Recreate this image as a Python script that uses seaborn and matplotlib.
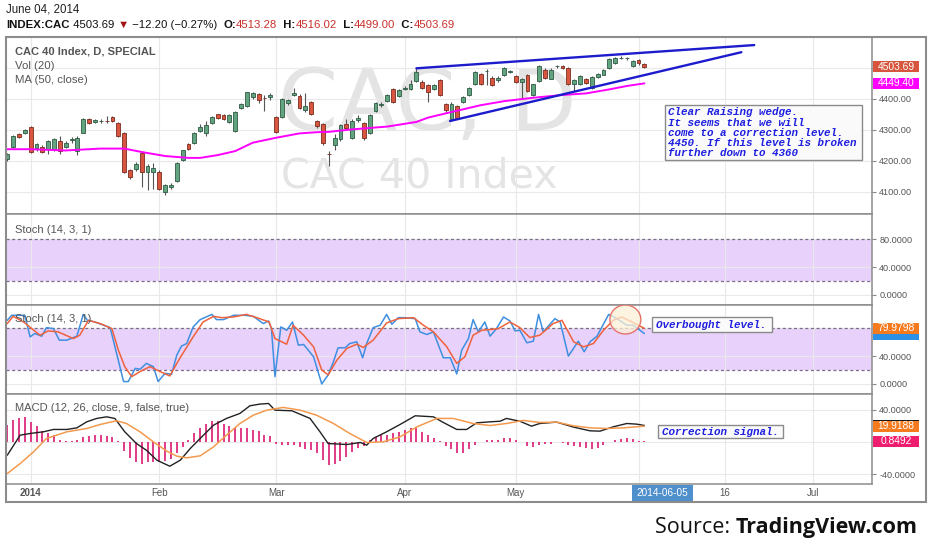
import numpy as np
import pandas as pd
import matplotlib
matplotlib.use("Agg")
import matplotlib.pyplot as plt
import seaborn as sns
from matplotlib.patches import Rectangle, Ellipse

W, H = 932, 550

# --- daily candles, CAC 40 (Dec 24 2013 .. Jun 04 2014) ---
opens = [4205, 4245, 4285, 4288, 4310, 4242, 4244, 4237, 4237, 4263,
         4245, 4268, 4231, 4290, 4335, 4324, 4327, 4328, 4341, 4322,
         4288, 4169, 4173, 4224, 4164, 4164, 4164, 4098, 4114, 4135,
         4201, 4253, 4258, 4295, 4290, 4320, 4349, 4346, 4324, 4295,
         4370, 4375, 4407, 4415, 4403, 4407, 4341, 4341, 4386, 4411,
         4410, 4365, 4388, 4327, 4317, 4222, 4249, 4269, 4317, 4274,
         4331, 4322, 4290, 4360, 4380, 4392, 4430, 4408, 4432, 4430,
         4457, 4455, 4443, 4432, 4459, 4382, 4333, 4376, 4389, 4412,
         4448, 4480, 4489, 4468, 4459, 4475, 4487, 4473, 4455, 4476,
         4412, 4457, 4494, 4465, 4504, 4507, 4500, 4448, 4446, 4462,
         4435, 4471, 4478, 4500, 4514, 4531, 4530, 4507, 4525, 4513.28]
closes = [4223, 4281, 4276, 4299, 4228, 4253, 4229, 4265, 4269, 4231,
          4256, 4270, 4274, 4335, 4322, 4331, 4328, 4327, 4327, 4281,
          4164, 4146, 4189, 4164, 4183, 4175, 4108, 4121, 4122, 4192,
          4233, 4239, 4288, 4309, 4315, 4341, 4338, 4335, 4346, 4357,
          4383, 4420, 4418, 4397, 4401, 4413, 4292, 4399, 4395, 4418,
          4370, 4375, 4352, 4311, 4256, 4220, 4274, 4314, 4306, 4328,
          4339, 4274, 4347, 4387, 4382, 4411, 4389, 4427, 4434, 4449,
          4486, 4435, 4422, 4444, 4412, 4365, 4384, 4339, 4405, 4433,
          4486, 4448, 4490, 4443, 4468, 4500, 4487, 4455, 4464, 4425,
          4446, 4507, 4468, 4494, 4505, 4500, 4446, 4459, 4473, 4451,
          4470, 4481, 4494, 4527, 4532, 4532, 4530, 4521, 4514, 4503.69]
highs = [4226, 4284, 4289, 4302, 4312, 4257, 4250, 4268, 4272, 4280,
         4262, 4275, 4280, 4338, 4338, 4336, 4335, 4343, 4345, 4325,
         4292, 4172, 4195, 4228, 4190, 4192, 4170, 4125, 4128, 4195,
         4236, 4256, 4291, 4318, 4328, 4344, 4352, 4350, 4352, 4360,
         4386, 4422, 4421, 4418, 4412, 4418, 4345, 4402, 4398, 4434,
         4415, 4418, 4392, 4331, 4320, 4232, 4285, 4318, 4335, 4333,
         4348, 4326, 4350, 4390, 4388, 4414, 4433, 4430, 4440, 4460,
         4498, 4459, 4447, 4449, 4465, 4386, 4388, 4380, 4410, 4437,
         4490, 4484, 4495, 4472, 4472, 4503, 4492, 4477, 4468, 4480,
         4449, 4510, 4498, 4498, 4510, 4510, 4503, 4463, 4476, 4466,
         4474, 4484, 4497, 4530, 4535, 4537, 4534, 4525, 4528, 4516.02]
lows = [4200, 4240, 4272, 4285, 4225, 4232, 4225, 4221, 4230, 4220,
        4240, 4256, 4218, 4288, 4318, 4320, 4322, 4322, 4324, 4278,
        4160, 4140, 4168, 4114, 4104, 4108, 4104, 4090, 4110, 4130,
        4198, 4236, 4255, 4292, 4280, 4317, 4335, 4330, 4320, 4292,
        4366, 4372, 4400, 4385, 4359, 4395, 4290, 4338, 4380, 4408,
        4366, 4357, 4348, 4307, 4252, 4183, 4235, 4262, 4302, 4270,
        4326, 4268, 4285, 4357, 4374, 4389, 4386, 4405, 4428, 4427,
        4453, 4432, 4389, 4428, 4408, 4355, 4328, 4335, 4385, 4409,
        4444, 4445, 4443, 4440, 4455, 4472, 4482, 4451, 4403, 4421,
        4408, 4454, 4465, 4462, 4500, 4497, 4443, 4425, 4443, 4448,
        4430, 4468, 4475, 4497, 4511, 4527, 4524, 4503, 4510, 4499.00]

# MA (50, close)
ma_x = [0, 4, 10, 16, 20, 23, 27, 31, 33, 36, 39, 42, 46, 50, 53, 55, 59, 65, 70, 72,
        76, 81, 85, 90, 95, 99, 103, 106, 109]
ma_v = [4237, 4237, 4233, 4239, 4239, 4228, 4215, 4209, 4209, 4218, 4231, 4258, 4274, 4288,
        4292, 4293, 4301, 4310, 4325, 4339, 4357, 4379, 4392, 4403, 4412, 4417, 4430, 4441, 4449.4]

# rising wedge drawn by the author
wedge_top_x = [70, 127.8]
wedge_top_v = [4498, 4573]
wedge_low_x = [75.75, 125.6]
wedge_low_v = [4328, 4550]

# Stoch (14, 3, 1), second pane
k_x = [0, 0.75, 3, 3.9, 4.7, 5.9, 6.7, 7.9, 8.9, 10.2, 11.9, 13, 13.7, 15, 17.6, 19.9, 20.7,
       21.9, 22.7, 23.8, 25, 25.8, 27, 28.1, 29, 29.8, 30.7, 31.8, 33, 35, 35.8, 37, 38.7,
       40.7, 42.1, 43.8, 44.7, 45.2, 45.8, 46.8, 47.8, 48.8, 49.8, 50.7, 52.4, 53.8, 54.9,
       55.8, 56.6, 57.8, 58.6, 59.8, 60.8, 61.5, 62.6, 63.8, 64.9, 65.8, 66.9, 68.1, 69.8,
       70.6, 71.8, 72.9, 74.6, 75.8, 76.9, 77.75, 78.9, 79.7, 80.6, 81.7, 82.6, 83.7, 84.9,
       86, 86.9, 87.7, 88.9, 90, 90.9, 91.7, 93.7, 94.6, 96, 97.7, 98.7, 99.7, 100.9, 102.9,
       104.3, 106, 107.1, 109]
k_v = [91.5, 98.7, 98.7, 67.7, 72.5, 68.7, 81, 79.6, 63, 63, 68.7, 100, 91.5, 89.1, 81, 3.5,
       3.5, 22.5, 21.1, 29.6, 24.9, 3.5, 15.4, 13.9, 41.5, 54.4, 58.2, 82, 92.5, 100, 92.5,
       92.5, 98.7, 98.7, 97.2, 86.8, 90.6, 79.6, 10.6, 82, 77.2, 89.1, 55.8, 56.8, 39.2, 0.1,
       13, 32, 52, 52, 58.2, 60.6, 37.7, 58.2, 81, 84.4, 100, 85.8, 95.3, 95.3, 93.9, 74.9,
       71.1, 74.9, 37.7, 37.7, 14.4, 48.7, 65.3, 92.5, 74.9, 89.1, 68.7, 79.6, 96.3, 90.6,
       76.3, 77.2, 59.2, 61.5, 100, 74.9, 93.9, 89.1, 40.1, 61.5, 46.3, 60.6, 68.7, 100,
       93.9, 84.4, 84.4, 72.5]
d_x = [0, 1, 2.8, 5.6, 7, 8.7, 11.3, 12.4, 13.9, 15.9, 17.9, 19, 20.1, 21.3, 22.7, 24.4, 25.8,
       27.8, 29.5, 31.8, 33.5, 35.3, 36.7, 38.7, 40.9, 42.7, 44.8, 45.8, 47.8, 48.9, 50.7,
       52.4, 53.8, 54.9, 56.4, 58.1, 59.8, 60.9, 62.6, 64.9, 66.9, 69.5, 71.2, 72.9, 75.2,
       76.9, 78.3, 79.7, 81.2, 82.6, 84, 86, 87.7, 89.4, 91.1, 93.4, 94.9, 96.9, 98.6, 100.3,
       102, 103.7, 105.1, 106.9, 109]
d_v = [86.8, 97.2, 89.1, 70.1, 76.3, 74.9, 65.3, 70.1, 91.5, 86.8, 79.6, 48.7, 24.9, 10.6,
       17.8, 24.9, 19.2, 11.6, 36.8, 67.7, 89.1, 97.2, 95.3, 96.3, 100, 95.3, 89.1, 65.3,
       57.2, 84.4, 70.1, 53.4, 20.1, 13, 34.4, 51.1, 57.2, 52.5, 63, 87.7, 93.9, 95.3, 84.4,
       74.9, 53.4, 29.6, 39.2, 70.1, 77.2, 78.2, 79.6, 89.1, 81, 66.8, 70.1, 86.8, 91.5,
       60.6, 53.4, 58.2, 77.2, 91.5, 96.3, 89.1, 79.98]

# MACD (12, 26, close, 9)
macd_x = [0, 2.2, 3.9, 6.2, 7.9, 10.2, 11.9, 13.6, 15.3, 17, 18.4, 20.1, 22.1, 23.8, 25.6,
          27.8, 29.6, 31.3, 33, 35.3, 37.5, 39.8, 41.5, 43.2, 44.7, 45.8, 48.7, 51.8, 53.5,
          54.9, 58.1, 60.4, 61.5, 62.6, 64.9, 67.2, 69.8, 72.9, 74.6, 76.9, 78.6, 80.3, 82.6,
          84.3, 85.4, 87.7, 89.7, 91.1, 94, 96.9, 99.7, 101.4, 103.7, 106, 107.7, 109]
macd_v = [-16.2, 8.7, 10.8, 12.9, 15.8, 15.8, 17.8, 25.3, 29.5, 31.5, 29.5, 12.9, -1.7, -10,
          -22.4, -29.9, -22.4, -7.9, 4.6, 21.2, 29.5, 35.7, 45.2, 47.3, 48.1, 39.8, 39, 29.5,
          12.9, -1.7, -2.9, -0.4, -3.7, 4.6, 12.9, 22, 32.8, 31.5, 24.5, 15.8, 15.8, 24, 25.3,
          26, 29.5, 26, 19.9, 23.2, 24.9, 18.7, 14.1, 13.7, 19.1, 23.2, 22.4, 20.77]
signal_x = [0, 2.2, 4.5, 6.7, 10.2, 13.6, 15.9, 18.7, 20.4, 22.7, 25, 27.3, 29, 30.7, 33, 35.3,
            37.5, 39.8, 42.1, 44.4, 47.2, 50.1, 52.9, 55.8, 58.6, 61.5, 64.3, 67.2, 70.1, 73.5,
            76.3, 79.7, 82.6, 85.4, 88.3, 91.1, 94, 96.9, 99.7, 102.6, 105.4, 109]
signal_v = [-39, -26.6, -12, 4.6, 12.9, 17, 22, 26.6, 23.2, 12.9, 0.4, -11.2, -17.4, -19.5,
            -17, -5.8, 8.7, 23.2, 33.6, 39.8, 43.2, 39.8, 33.6, 23.2, 10.8, -0.4, 0.4, 6.6,
            19.1, 29.5, 29.5, 23.2, 20.7, 23.2, 27, 24.5, 24.9, 20.3, 17.8, 17, 17.8, 19.92]
hist_v = [21, 28, 30, 31, 24.5, 20, 13.7, 10.8, 8.7, 3.3,
          2, 1.7, 2.5, 6.6, 7.5, 8.7, 8.7, 7.5, 6.6, 1.7,
          -11.2, -20, -24.5, -27, -25, -25, -24.5, -23.7, -21, -14,
          -5.8, 3.3, 10.8, 17.8, 22, 26, 26, 22, 20, 17,
          17, 17, 15, 13.7, 9.5, 7.5, -1.7, -3, -3, -3,
          -5.8, -7.9, -10, -14, -21.6, -28.6, -26.6, -23.7, -18.3, -12,
          -7, -5, 2.5, 6.6, 9.5, 9.5, 10.8, 12.9, 15, 17.8,
          17, 12.9, 8.7, 5.8, 1.2, -5, -8.5, -14, -13, -7.9,
          -3.7, 0.3, 3.3, 3.3, 3.3, 4.6, 5.8, 2.5, -0.4, -5,
          -5.8, -3, -2, -1.7, 0.2, -0.8, -3.7, -5, -5.8, -7,
          -7.9, -7, -3.7, 0.2, 2.5, 3.7, 4.6, 3.7, 2, 0.85]

# time axis (bar positions of the month starts; future part is calendar spaced)
xtick_pos = [4, 26, 46, 68, 87, 108, 122.8, 137.9]
xtick_lab = ['2014', 'Feb', 'Mar', 'Apr', 'May', '', '16', 'Jul']

header_date = 'June 04, 2014'
header_parts = [('INDEX:CAC', '#111111', 'bold'), (' 4503.69 ', '#111111', 'normal'),
                ('\u25bc', '#a01515', 'normal'), (' \u221212.20 (\u22120.27%)  ', '#111111', 'normal'),
                ('O:', '#111111', 'bold'), ('4513.28', '#c8302c', 'normal'),
                ('  H:', '#111111', 'bold'), ('4516.02', '#c8302c', 'normal'),
                ('  L:', '#111111', 'bold'), ('4499.00', '#c8302c', 'normal'),
                ('  C:', '#111111', 'bold'), ('4503.69', '#c8302c', 'normal')]
note_lines = ['Clear Raising wedge.', 'It seems that we will', 'come to a correction level.',
              '4450. If this level is broken', 'further down to 4360']

sns.set_theme(style="white")
plt.rcParams['font.family'] = ['Liberation Sans', 'DejaVu Sans']

fig = plt.figure(figsize=(W / 100, H / 100), dpi=100)


def fx(x):
    return x / W


def fy(y):
    return 1 - y / H


PL, PR = 6, 872.3


def make_ax(top, bottom):
    ax = fig.add_axes([fx(PL), fy(bottom), (PR - PL) / W, (bottom - top) / H])
    ax.set_facecolor('white')
    ax.set_xlim(-0.22, 148)
    ax.set_xticks(xtick_pos)
    ax.grid(True, color='#e9e9e9', lw=0.8)
    ax.set_axisbelow(True)
    ax.yaxis.tick_right()
    ax.tick_params(axis='y', length=3, width=0.8, color='#888888', labelsize=6.6,
                   labelcolor='#555555', pad=2, right=True, left=False)
    ax.tick_params(axis='x', length=0, labelbottom=False)
    for s in ax.spines.values():
        s.set_color('#8c8c8c')
        s.set_linewidth(1.1)
    return ax


ax_p = make_ax(36.7, 214.3)
ax_s1 = make_ax(214.3, 305)
ax_s2 = make_ax(305, 394.3)
ax_m = make_ax(394.3, 484)

# ---- price pane ----
ax_p.set_ylim(4027, 4600)
ax_p.set_yticks([4100, 4200, 4300, 4400, 4500])
ax_p.set_yticklabels(['4100.00', '4200.00', '4300.00', '4400.00', ''])

ax_p.text(fx(278), fy(130), 'CAC, D', transform=fig.transFigure, fontsize=62,
          family='DejaVu Sans', color='#e4e4e4', ha='left', va='baseline', zorder=0.5)
ax_p.text(fx(281), fy(188), 'CAC 40 Index', transform=fig.transFigure, fontsize=29.6,
          family='DejaVu Sans', color='#e4e4e4', ha='left', va='baseline', zorder=0.5)

df = pd.DataFrame({'o': opens, 'h': highs, 'l': lows, 'c': closes})
df['i'] = np.arange(len(df))
up = (df['c'] >= df['o']).to_numpy()
ax_p.vlines(df['i'], df['l'], df['h'], color='#555555', lw=0.8, zorder=3)
ax_p.bar(df['i'], (df['c'] - df['o']).abs().clip(lower=1.0), bottom=df[['o', 'c']].min(axis=1),
         width=0.66, color=np.where(up, '#62a47f', '#d8553f'),
         edgecolor=np.where(up, '#2f5a44', '#7a2c1f'), linewidth=0.6, zorder=4)

sns.lineplot(x=ma_x, y=ma_v, ax=ax_p, color='#ff00ff', lw=1.4, zorder=5)
sns.lineplot(x=wedge_top_x, y=wedge_top_v, ax=ax_p, color='#1c1ccc', lw=1.7, zorder=6)
sns.lineplot(x=wedge_low_x, y=wedge_low_v, ax=ax_p, color='#1c1ccc', lw=1.7, zorder=6)

# ---- stoch panes ----
for ax, lo, hi, lab80 in [(ax_s1, -14.4, 116, '80.0000'), (ax_s2, -14.8, 113.5, '')]:
    ax.set_ylim(lo, hi)
    ax.set_yticks([0, 40, 80])
    ax.set_yticklabels(['0.0000', '40.0000', lab80])
    ax.axhspan(20, 80, color='#e8d1fb', zorder=0.4, lw=0)
    for lvl in (20, 80):
        ax.axhline(lvl, color='#7d6d8c', lw=0.9, ls=(0, (2.5, 2)), zorder=1)

sns.lineplot(x=k_x, y=k_v, ax=ax_s2, color='#3f8fe0', lw=1.1, zorder=4)
sns.lineplot(x=d_x, y=d_v, ax=ax_s2, color='#f0623c', lw=1.1, zorder=4)
ax_s2.add_patch(Ellipse((105.75, 92.7), 5.3, 41.7, fc=(0.99, 0.94, 0.84, 0.75),
                        ec='#e5736a', lw=1, zorder=6))

# ---- MACD pane ----
ax_m.set_ylim(-52, 59.5)
ax_m.set_yticks([-40, 0, 40])
ax_m.set_yticklabels(['-40.0000', '', '40.0000'])
ax_m.vlines(np.arange(len(hist_v)), 0, hist_v, color='#dc2277', lw=1.25, zorder=3)
sns.lineplot(x=macd_x, y=macd_v, ax=ax_m, color='#222222', lw=1.0, zorder=4)
sns.lineplot(x=signal_x, y=signal_v, ax=ax_m, color='#f39a4e', lw=1.1, zorder=4)
ax_m.tick_params(axis='x', labelbottom=True, labelsize=7, labelcolor='#555555', pad=3)
ax_m.set_xticklabels(xtick_lab)
ax_m.get_xticklabels()[0].set_fontweight('bold')

for ax in (ax_p, ax_s1, ax_s2, ax_m):
    ax.set_xlabel('')
    ax.set_ylabel('')
    if ax.get_legend():
        ax.get_legend().remove()


# ---- right-hand value labels ----
def side_label(ax, val, txt, fc):
    ytop = H - ax.transData.transform((0, val))[1]
    fig.add_artist(Rectangle((fx(872.8), fy(ytop + 5.5)), 46.5 / W, 11 / H,
                             transform=fig.transFigure, fc=fc, ec='none', zorder=6))
    if txt:
        fig.text(fx(872.8 + 23.2), fy(ytop), txt, color='white', fontsize=7.4,
                 ha='center', va='center', zorder=7)


side_label(ax_p, 4503.69, '4503.69', '#d6553c')
side_label(ax_p, 4449.40, '4449.40', '#ff00ff')
side_label(ax_s2, 71.6, '', '#2b90e6')          # %K label, mostly hidden under %D
side_label(ax_s2, 79.9798, '79.9798', '#f67a1e')
side_label(ax_m, 20.77, '', '#1a1a1a')          # MACD label, hidden under signal
side_label(ax_m, 19.9188, '19.9188', '#f67a1e')
side_label(ax_m, 0.8492, '0.8492', '#ee1d6d')

# ---- pane titles ----
fig.text(fx(15), fy(51.7), 'CAC 40 Index, D, SPECIAL', fontsize=8, fontweight='bold',
         color='#555555', va='center', zorder=8)
fig.text(fx(15), fy(66), 'Vol (20)', fontsize=8.2, color='#555555', va='center', zorder=8)
fig.text(fx(15), fy(80), 'MA (50, close)', fontsize=8.2, color='#555555', va='center', zorder=8)
fig.text(fx(15), fy(230), 'Stoch (14, 3, 1)', fontsize=8, color='#555555', va='center', zorder=8)
fig.text(fx(15), fy(319), 'Stoch (14, 3, 1)', fontsize=8, color='#555555', va='center', zorder=8)
fig.text(fx(15), fy(408.3), 'MACD (12, 26, close, 9, false, true)', fontsize=8,
         color='#555555', va='center', zorder=8)

# ---- author notes ----
note_font = dict(family='Liberation Mono', fontweight='bold', style='italic',
                 color='#1f1fe0', fontsize=7.8, va='center', ha='left', zorder=9)


def note_box(x0, y0, x1, y1):
    fig.add_artist(Rectangle((fx(x0), fy(y1)), (x1 - x0) / W, (y1 - y0) / H,
                             transform=fig.transFigure, fc='#fafafa', ec='#8a8a8a',
                             lw=1, zorder=8))


note_box(664.5, 105.5, 862.3, 160.3)
for k, line in enumerate(note_lines):
    fig.text(fx(667.5), fy(112.3 + 10.3 * k), line, **note_font)
note_box(652.3, 317.3, 771.7, 332.3)
fig.text(fx(655.5), fy(325), 'Overbought level.', **note_font)
note_box(658.3, 425, 782.7, 438.3)
fig.text(fx(661.5), fy(431.8), 'Correction signal.', **note_font)

# ---- crosshair date ----
fig.add_artist(Rectangle((fx(632), fy(501)), 61 / W, 16.5 / H, transform=fig.transFigure,
                         fc='#4f8fcb', ec='none', zorder=8))
fig.text(fx(662.5), fy(492.5), '2014-06-05', color='white', fontsize=7.2,
         ha='center', va='center', zorder=9)

# ---- outer frame ----
fig.add_artist(Rectangle((fx(6), fy(501.7)), (925.7 - 6) / W, (501.7 - 36.7) / H,
                         transform=fig.transFigure, fill=False, ec='#8c8c8c', lw=1.5, zorder=10))

# ---- header ----
renderer = fig.canvas.get_renderer()
fig.text(fx(6), fy(10), header_date, fontsize=8.3, color='#222222', va='center')
xpos = 6.5
for txt, col, wt in header_parts:
    t = fig.text(fx(xpos), fy(25), txt, fontsize=8.2, color=col, fontweight=wt, va='center')
    xpos += t.get_window_extent(renderer=renderer).width

# ---- source line ----
t_src = fig.text(fx(918), fy(533), 'TradingView.com', fontsize=15.5, fontweight='bold',
                 family=['Open Sans', 'DejaVu Sans'], color='#111111', ha='right', va='baseline')
src_w = t_src.get_window_extent(renderer=renderer).width
fig.text(fx(918 - src_w), fy(533), 'Source: ', fontsize=15.5,
         family=['Open Sans', 'DejaVu Sans'], color='#111111', ha='right', va='baseline')

fig.savefig('out.png', dpi=100)
